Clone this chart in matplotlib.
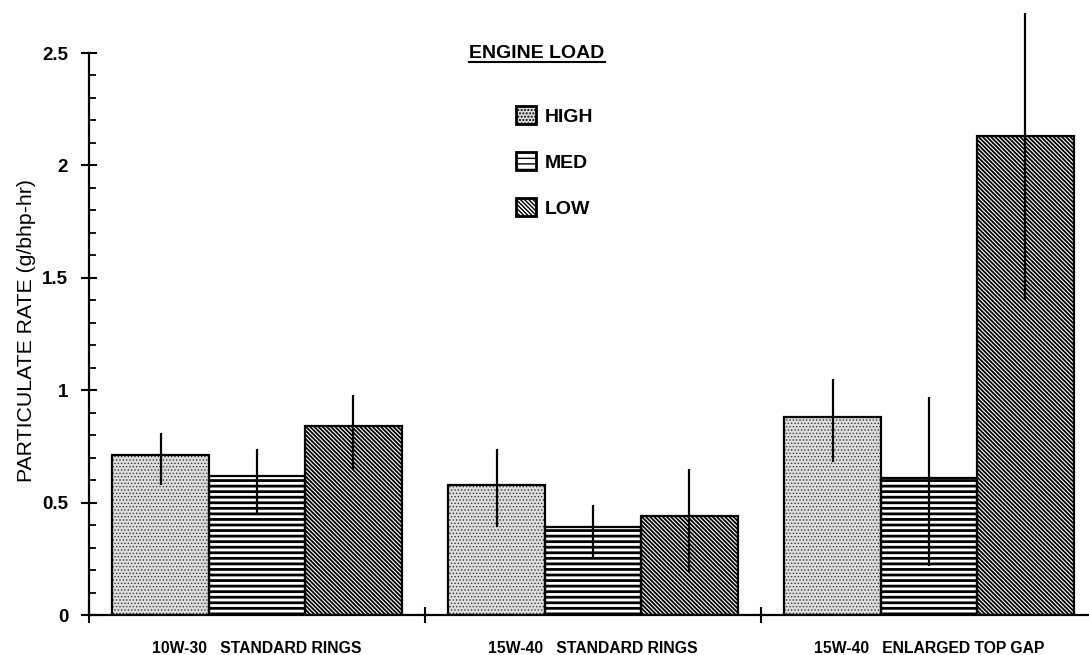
import matplotlib
matplotlib.use("Agg")
import matplotlib.pyplot as plt
import numpy as np
from matplotlib.patches import Patch
from matplotlib.lines import Line2D

plt.rcParams['font.family'] = ['Liberation Sans', 'DejaVu Sans']

# ---- data ----
groups = ["10W-30   STANDARD RINGS", "15W-40   STANDARD RINGS", "15W-40   ENLARGED TOP GAP"]
loads = ["HIGH", "MED", "LOW"]
high_vals = [0.71, 0.58, 0.88]
med_vals = [0.62, 0.39, 0.61]
low_vals = [0.84, 0.44, 2.13]
high_lo = [0.58, 0.39, 0.68]
high_hi = [0.81, 0.74, 1.05]
med_lo = [0.45, 0.26, 0.22]
med_hi = [0.74, 0.49, 0.97]
low_lo = [0.65, 0.19, 1.40]
low_hi = [0.98, 0.65, 2.68]
yticks = [0, 0.5, 1, 1.5, 2, 2.5]
ytick_labels = ["0", "0.5", "1", "1.5", "2", "2.5"]
legend_title = "ENGINE LOAD"
ylabel = "PARTICULATE RATE (g/bhp-hr)"

# ---- styles ----
styles = [
    dict(facecolor="#dedede", hatch=".....", hcolor="#333333", hlw=0.6),
    dict(facecolor="white", hatch="---", hcolor="black", hlw=2.0),
    dict(facecolor="white", hatch="\\" * 8, hcolor="black", hlw=1.3),
]

W, H = 1089, 655
fig = plt.figure(figsize=(W / 100, H / 100), dpi=100)
ax = fig.add_axes([89 / W, 40 / H, 1008 / W, 615 / H])

x = np.arange(len(groups)) + 0.5
bw = 0.287
offsets = [-bw, 0, bw]
series = [(high_vals, high_lo, high_hi), (med_vals, med_lo, med_hi), (low_vals, low_lo, low_hi)]

for (vals, lo, hi), off, st in zip(series, offsets, styles):
    xs = x + off
    with plt.rc_context({'hatch.linewidth': st['hlw']}):
        bars = ax.bar(xs, vals, width=bw, facecolor=st['facecolor'], edgecolor=st['hcolor'],
                      hatch=st['hatch'], linewidth=0, zorder=2)
        for b in bars:
            if hasattr(b, 'set_hatch_linewidth'):
                b.set_hatch_linewidth(st['hlw'])
    ax.bar(xs, vals, width=bw, facecolor='none', edgecolor='black', linewidth=1.6, zorder=3)
    vals = np.array(vals)
    ax.errorbar(xs, vals, yerr=[vals - np.array(lo), np.array(hi) - vals], fmt='none',
                ecolor='black', elinewidth=1.6, capsize=0, zorder=4)

ax.set_xlim(0, 3)
ax.set_ylim(0, 2.5 * 615 / 562)

for s in ['top', 'right']:
    ax.spines[s].set_visible(False)
ax.spines['left'].set_bounds(0, 2.5)
ax.spines['left'].set_linewidth(1.6)
ax.spines['bottom'].set_linewidth(1.6)

ax.set_yticks(yticks)
ax.set_yticklabels(ytick_labels, fontsize=13.5, fontweight='bold')
ax.set_yticks(np.arange(0, 2.51, 0.1), minor=True)
ax.tick_params(axis='y', which='major', direction='inout', length=12, width=1.5, pad=9)
ax.tick_params(axis='y', which='minor', direction='in', length=5, width=1.3)

ax.set_xticks([0, 1, 2, 3])
ax.set_xticklabels([])
ax.set_xticks(x, minor=True)
ax.set_xticklabels(groups, minor=True, fontsize=11.3, fontweight='bold')
ax.tick_params(axis='x', which='major', direction='inout', length=12, width=1.5)
ax.tick_params(axis='x', which='minor', length=0, pad=18.5)

ax.set_ylabel(ylabel, fontsize=15.3)
ax.yaxis.set_label_coords(-0.053, 0.463)

# legend
handles = []
for st in styles:
    handles.append(Patch(facecolor=st['facecolor'], edgecolor='black', hatch=st['hatch'], linewidth=2))
leg = ax.legend(handles, loads, loc='upper left', bbox_to_anchor=(516 / W, 1 - 106 / H),
                bbox_transform=fig.transFigure, frameon=False, prop=dict(size=14, weight='bold'),
                handlelength=1.05, handleheight=1.05, handletextpad=0.45, labelspacing=1.36,
                borderpad=0, borderaxespad=0)

t = fig.text(537 / W, 1 - 53 / H, legend_title, ha='center', va='center', fontsize=14,
             fontweight='bold')
fig.canvas.draw()
bb = t.get_window_extent()
fig.add_artist(Line2D([bb.x0 / W, bb.x1 / W], [(H - 62) / H, (H - 62) / H],
                      transform=fig.transFigure, color='black', linewidth=1.5))

fig.savefig("out.png", dpi=100)
